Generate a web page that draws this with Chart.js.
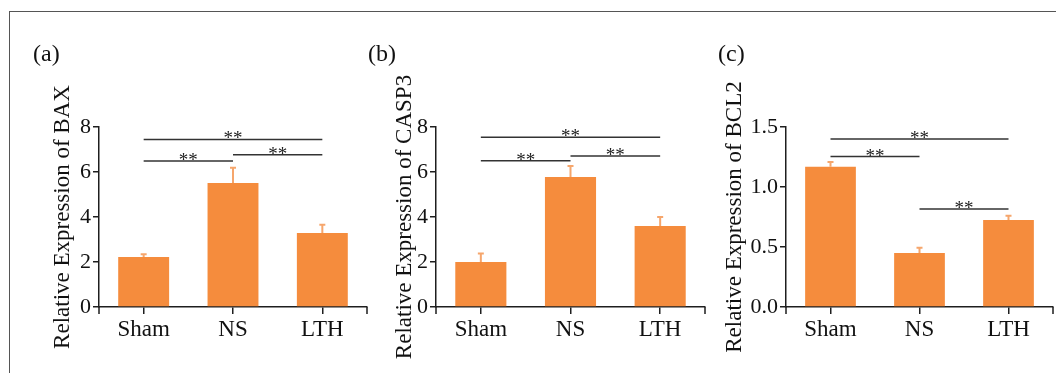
<!DOCTYPE html>
<html>
<head>
<meta charset="utf-8">
<script src="https://cdn.jsdelivr.net/npm/chart.js@4.4.0/dist/chart.umd.min.js"></script>
<style>
    html, body { margin: 0; padding: 0; background: #fff; overflow: hidden; }
    #page { position: relative; width: 1056px; height: 373px; overflow: hidden; }
    #frame {
        position: absolute; left: 9px; top: 11px; width: 1100px; height: 400px;
        border-left: 1.5px solid #555; border-top: 1.5px solid #555;
    }
    canvas { position: absolute; top: 0; }
</style>
</head>
<body>
<div id="page">
    <div id="frame"></div>
    <canvas id="chartA" style="left:0px"></canvas>
    <canvas id="chartB" style="left:337px"></canvas>
    <canvas id="chartC" style="left:687px"></canvas>
</div>

<script>
"use strict";

// data
const groups = ["Sham", "NS", "LTH"];

const baxMean = [2.22, 5.51, 3.29];
const baxErr = [0.12, 0.68, 0.37];
const baxTicks = [0, 2, 4, 6, 8];

const casp3Mean = [2.0, 5.78, 3.6];
const casp3Err = [0.38, 0.49, 0.40];
const casp3Ticks = [0, 2, 4, 6, 8];

const bcl2Mean = [1.168, 0.449, 0.725];
const bcl2Err = [0.040, 0.044, 0.036];
const bcl2Ticks = [0, 0.5, 1.0, 1.5];

// significance brackets: [from group, to group, height]
const baxSig = [[0, 2, 7.45], [0, 1, 6.49], [1, 2, 6.77]];
const casp3Sig = [[0, 2, 7.54], [0, 1, 6.50], [1, 2, 6.71]];
const bcl2Sig = [[0, 2, 1.40], [0, 1, 1.254], [1, 2, 0.817]];

const SERIF = "'Liberation Serif', 'DejaVu Serif', serif";
const BAR_COLOR = "#F58C3D";
const ERR_COLOR = "#F6A66C";
const AXIS_COLOR = "#1e1e1e";

/*---------------------------------------------------
  Plugin : error bars, brackets, panel letter
---------------------------------------------------*/
const extrasPlugin = {
    id: "extras",
    afterDatasetsDraw(chart) {
        const ctx = chart.ctx;
        const x = chart.scales.x;
        const y = chart.scales.y;
        const opts = chart.options.plugins.extras;
        const meta = chart.getDatasetMeta(0);

        ctx.save();

        // upper error whiskers
        ctx.strokeStyle = ERR_COLOR;
        ctx.lineWidth = 2;
        meta.data.forEach((bar, i) => {
            const top = y.getPixelForValue(opts.mean[i] + opts.err[i]);
            ctx.beginPath();
            ctx.moveTo(bar.x, bar.y);
            ctx.lineTo(bar.x, top);
            ctx.moveTo(bar.x - 3, top);
            ctx.lineTo(bar.x + 3, top);
            ctx.stroke();
        });

        // brackets with stars
        ctx.strokeStyle = "#333";
        ctx.lineWidth = 1.5;
        ctx.fillStyle = "#222";
        ctx.font = "19px " + SERIF;
        ctx.textAlign = "center";
        ctx.textBaseline = "alphabetic";
        opts.sig.forEach(s => {
            const x1 = x.getPixelForValue(s[0]);
            const x2 = x.getPixelForValue(s[1]);
            const yy = y.getPixelForValue(s[2]);
            ctx.beginPath();
            ctx.moveTo(x1, yy);
            ctx.lineTo(x2, yy);
            ctx.stroke();
            ctx.fillText("**", (x1 + x2) / 2, yy + 5);
        });

        // end ticks of the x axis
        const area = chart.chartArea;
        ctx.strokeStyle = AXIS_COLOR;
        ctx.lineWidth = 1.5;
        ctx.beginPath();
        ctx.moveTo(area.left, area.bottom);
        ctx.lineTo(area.left, area.bottom + 7);
        ctx.moveTo(area.right, area.bottom);
        ctx.lineTo(area.right, area.bottom + 7);
        ctx.stroke();

        // panel letter
        ctx.fillStyle = "#111";
        ctx.font = "24px " + SERIF;
        ctx.textAlign = "left";
        ctx.fillText(opts.letter, opts.letterX, 61);

        ctx.restore();
    }
};

function makePanel(id, width, cfg) {
    const canvas = document.getElementById(id);
    canvas.width = width;
    canvas.height = 373;
    canvas.style.width = width + "px";
    canvas.style.height = "373px";

    return new Chart(canvas, {
        type: "bar",
        plugins: [extrasPlugin],
        data: {
            labels: groups,
            datasets: [{
                data: cfg.mean,
                backgroundColor: BAR_COLOR,
                borderWidth: 0,
                barPercentage: 0.57,
                categoryPercentage: 1
            }]
        },
        options: {
            responsive: false,
            animation: false,
            events: [],
            layout: {
                padding: { left: 0, top: 127, right: width - 99 - cfg.axisLen, bottom: 16 }
            },
            plugins: {
                legend: { display: false },
                tooltip: { enabled: false },
                extras: {
                    mean: cfg.mean,
                    err: cfg.err,
                    sig: cfg.sig,
                    letter: cfg.letter,
                    letterX: cfg.letterX
                }
            },
            scales: {
                x: {
                    afterFit: scale => { scale.height = 50; },
                    grid: {
                        offset: false,
                        drawOnChartArea: false,
                        tickLength: 7,
                        color: AXIS_COLOR,
                        lineWidth: 1.5
                    },
                    border: { display: true, color: AXIS_COLOR, width: 1.5 },
                    ticks: {
                        color: "#111",
                        padding: 2,
                        font: { family: SERIF, size: 23 }
                    }
                },
                y: {
                    min: cfg.ticks[0],
                    max: cfg.ticks[cfg.ticks.length - 1],
                    afterFit: scale => { scale.width = 99; },
                    afterBuildTicks: scale => {
                        scale.ticks = cfg.ticks.map(v => ({ value: v }));
                    },
                    grid: {
                        drawOnChartArea: false,
                        tickLength: 6,
                        color: AXIS_COLOR,
                        lineWidth: 1.5
                    },
                    border: { display: true, color: AXIS_COLOR, width: 1.5 },
                    ticks: {
                        color: "#111",
                        padding: 2,
                        font: { family: SERIF, size: 22 },
                        callback: v => cfg.decimals ? v.toFixed(1) : String(v)
                    },
                    title: {
                        display: true,
                        text: cfg.title,
                        color: "#111",
                        padding: { top: cfg.titlePad, bottom: 0 },
                        font: { family: SERIF, size: 23 }
                    }
                }
            }
        }
    });
}

makePanel("chartA", 372, {
    mean: baxMean, err: baxErr, sig: baxSig, ticks: baxTicks,
    title: "Relative Expression of BAX", titlePad: 49,
    letter: "(a)", letterX: 33, axisLen: 268, decimals: false
});

makePanel("chartB", 373, {
    mean: casp3Mean, err: casp3Err, sig: casp3Sig, ticks: casp3Ticks,
    title: "Relative Expression of CASP3", titlePad: 54,
    letter: "(b)", letterX: 31, axisLen: 269, decimals: false
});

makePanel("chartC", 369, {
    mean: bcl2Mean, err: bcl2Err, sig: bcl2Sig, ticks: bcl2Ticks,
    title: "Relative Expression of BCL2", titlePad: 34,
    letter: "(c)", letterX: 31, axisLen: 267, decimals: true
});
</script>
</body>
</html>
